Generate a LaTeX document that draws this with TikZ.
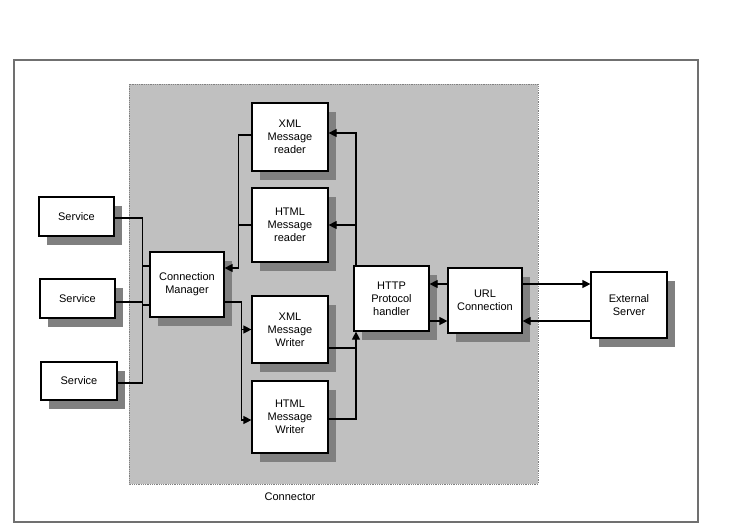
\documentclass[tikz,border=0pt]{standalone}
\usepackage{fontspec}
\setmainfont{Liberation Sans}
\usetikzlibrary{arrows.meta,shadows,calc}
\definecolor{framegray}{RGB}{112,112,112}
\definecolor{areagray}{RGB}{192,192,192}
\definecolor{shadowgray}{RGB}{128,128,128}
\tikzset{
  box/.style={draw=black, line width=1.2pt, fill=white, align=center,
    inner sep=2pt, font=\fontsize{11}{13}\selectfont,
    general shadow={fill=shadowgray, shadow xshift=8pt, shadow yshift=-9pt}},
  conn/.style={line width=1.2pt, draw=black},
  arr/.style={conn, -{Triangle[length=8pt,width=8pt]}},
}
\begin{document}
\begin{tikzpicture}[x=1pt,y=-1pt]
\useasboundingbox (0,0) rectangle (730,525);
% outer frame
\draw[framegray, line width=2pt] (13.5,60) rectangle (698,522);
% connector area
\draw[fill=areagray, draw=shadowgray, densely dotted, line width=0.8pt] (129,84) rectangle (538,484);
\node[font=\fontsize{11}{13}\selectfont] (lbl) at (290,497) {Connector};

% nodes
\node[box, minimum width=75pt, minimum height=39pt] (s1) at (76.5,216.5) {Service};
\node[box, minimum width=75pt, minimum height=39pt] (s2) at (77.5,298.5) {Service};
\node[box, minimum width=76pt, minimum height=38pt] (s3) at (79,381) {Service};
\node[box, minimum width=74pt, minimum height=65pt] (cm) at (187,284.5) {Connection\\Manager};
\node[box, minimum width=76pt, minimum height=68pt] (xr) at (290,137) {XML\\Message\\reader};
\node[box, minimum width=76pt, minimum height=74pt] (hr) at (290,225) {HTML\\Message\\reader};
\node[box, minimum width=76pt, minimum height=67pt] (ww) at (290,329.5) {XML\\Message\\Writer};
\node[box, minimum width=76pt, minimum height=72pt] (hw) at (290,417) {HTML\\Message\\Writer};
\node[box, minimum width=75pt, minimum height=65pt] (http) at (391.5,298.5) {HTTP\\Protocol\\handler};
\node[box, minimum width=74pt, minimum height=65pt] (url) at (485,300.5) {URL\\Connection};
\node[box, minimum width=76pt, minimum height=66pt] (es) at (629,305) {External\\Server};

% services bus
\coordinate (bus1) at ($(s1.east)+(28pt,-1.5pt)$);
\draw[conn] ([yshift=-1.5pt]s1.east) -- (bus1);
\draw[conn] ([yshift=-3.5pt]s2.east) coordinate (s2o) -- (s2o -| bus1);
\draw[conn] ([yshift=-2pt]s3.east) coordinate (s3o) -- (s3o -| bus1) -- (bus1);
\draw[conn] ([yshift=18.5pt]cm.west) coordinate (cm1) -- (cm1 -| bus1);
\draw[conn] ([yshift=-20.5pt]cm.west) coordinate (cm2) -- (cm2 -| bus1);

% readers to connection manager
\coordinate (rbus) at ($(xr.west)+(-13pt,2pt)$);
\draw[arr] ([yshift=2pt]xr.west) -- (rbus) |- ([yshift=16.5pt]cm.east);
\draw[conn] (hr.west) -- (hr.west -| rbus);

% connection manager to writers
\coordinate (wbus) at ($(ww.west)+(-10pt,0)$);
\draw[conn] ([yshift=-17.5pt]cm.east) -| (wbus);
\draw[arr] (wbus) -- (ww.west);
\draw[arr] (wbus) |- ([yshift=-3pt]hw.west);

% http to readers
\coordinate (ht) at ([xshift=-35.5pt]http.north);
\coordinate (hb) at ([xshift=-35.5pt]http.south);
\draw[arr] (ht) |- ([yshift=4pt]xr.east);
\draw[arr] (ht |- hr.east) -- (hr.east);

% writers to http
\draw[conn] ([yshift=-18.5pt]ww.east) coordinate (wwo) -- (wwo -| hb);
\draw[arr] ([yshift=-2pt]hw.east) -| (hb);

% http <-> url
\draw[arr] ([yshift=16.5pt]url.west) coordinate (u1) -- (u1 -| http.east);
\draw[arr] ([yshift=-22.5pt]http.east) coordinate (h1) -- (h1 -| url.west);

% url <-> external server
\draw[arr] ([yshift=16.5pt]url.east) coordinate (u2) -- (u2 -| es.west);
\draw[arr] ([yshift=-16pt]es.west) coordinate (e1) -- (e1 -| url.east);
\end{tikzpicture}
\end{document}
